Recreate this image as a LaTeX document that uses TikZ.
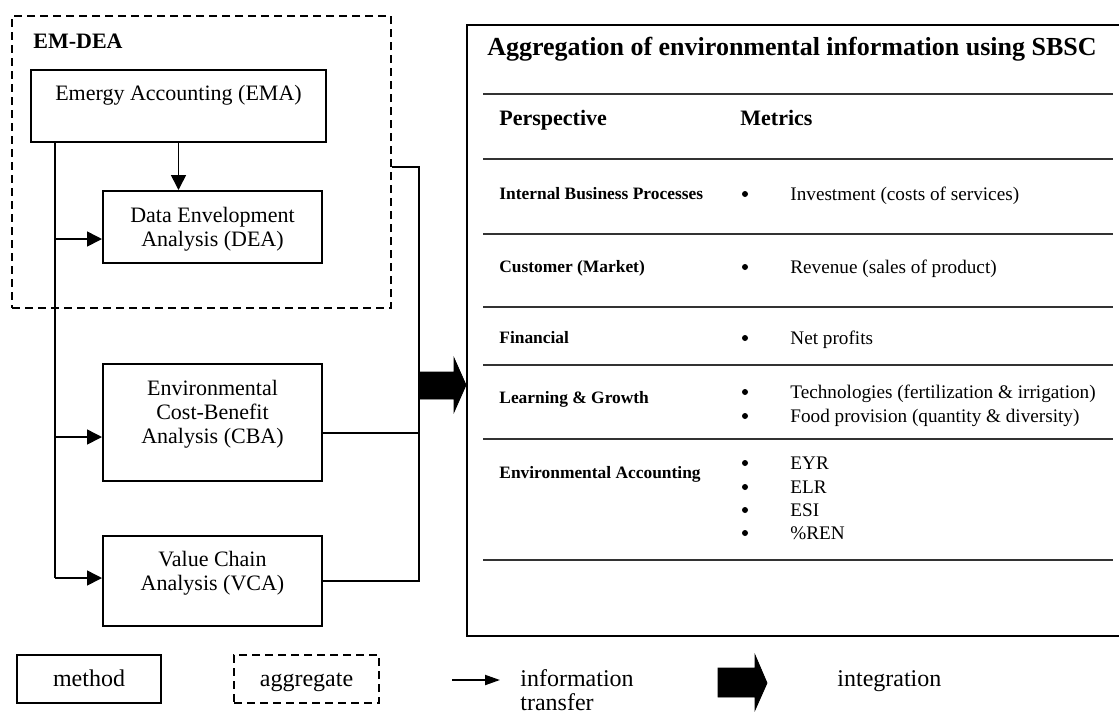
\documentclass[tikz,border=0pt]{standalone}
\usepackage{fontspec}
\setmainfont{Liberation Serif}
\usetikzlibrary{arrows.meta}
\begin{document}
\begin{tikzpicture}[x=0.5pt,y=-0.5pt,
  box/.style={draw, line width=1pt, inner sep=0pt},
  aggbox/.style={draw, line width=1pt, dash pattern=on 4pt off 2.5pt, inner sep=0pt},
  txt/.style={font=\fontsize{11}{12}\selectfont, align=center, inner sep=0pt},
  head/.style={font=\fontsize{11}{13}\selectfont\bfseries, inner sep=0pt},
  rowlabel/.style={font=\fontsize{8.7}{11}\selectfont\bfseries, inner sep=0pt, anchor=base west},
  metric/.style={font=\fontsize{9.6}{12}\selectfont, inner sep=0pt, anchor=base west},
  bul/.style={fill=black, circle, inner sep=0pt, minimum size=3pt},
  rule/.style={line width=1pt, draw=black!80},
  legtxt/.style={font=\fontsize{12}{12.5}\selectfont, inner sep=0pt, anchor=base west},
  link/.style={line width=0.8pt},
  flow/.style={line width=0.8pt, -{Triangle[length=7.5pt,width=7.5pt]}},
  legflow/.style={line width=1pt, -{Triangle[length=7.5pt,width=5pt]}},
  fat/.style={fill=black, draw=black, line width=0.4pt}
]
\useasboundingbox (0,0) rectangle (1119,714);

% ---------- method boxes ----------
\node[aggbox, minimum width=189.5pt, minimum height=146pt] (emdea) at (201.5,162) {};
\node[head, anchor=base west] (emdealabel) at (33,48) {EM-DEA};

\node[box, minimum width=147.5pt, minimum height=36pt] (ema) at (178.5,106) {};
\node[txt] (ematext) at (178.5,95) {Emergy Accounting (EMA)};

\node[box, minimum width=109.5pt, minimum height=36pt] (dea) at (212.5,227) {};
\node[txt] (deatext) at (212.5,229) {Data Envelopment\\Analysis (DEA)};

\node[box, minimum width=109.5pt, minimum height=58.5pt] (cba) at (212.5,422.5) {};
\node[txt] (cbatext) at (212.5,414) {Environmental\\Cost-Benefit\\Analysis (CBA)};

\node[box, minimum width=109.5pt, minimum height=45pt] (vca) at (212.5,581) {};
\node[txt] (vcatext) at (212.5,573.5) {Value Chain\\Analysis (VCA)};

% ---------- information transfer ----------
\coordinate (deain) at ([yshift=-6pt]dea.west);
\coordinate (cbain) at ([yshift=-7.25pt]cba.west);
\coordinate (vcain) at ([yshift=1.5pt]vca.west);
\coordinate (trunk) at (55,0);

\draw[flow] (ema.south) -- (ema.south |- dea.north);
\draw[link] (ema.south -| trunk) -- (vcain -| trunk);
\draw[flow] (deain -| trunk) -- (deain);
\draw[flow] (cbain -| trunk) -- (cbain);
\draw[flow] (vcain -| trunk) -- (vcain);

\coordinate (emdeaout) at ([yshift=-2.5pt]emdea.east);
\coordinate (cbaout) at ([yshift=-5.25pt]cba.east);
\coordinate (bus) at (419,0);
\draw[link] (emdeaout) -- (emdeaout -| bus) -- (vca.east -| bus) -- (vca.east);
\draw[link] (cbaout) -- (cbaout -| bus);

% ---------- SBSC panel ----------
\node[box, minimum width=329pt, minimum height=305.5pt] (sbsc) at (796,330.5) {};
\coordinate (tip) at (sbsc.west |- 0,385);
\fill[fat] (bus |- 0,372) -- (454,372) -- (454,358) -- (tip) -- (454,412) -- (454,399) -- (bus |- 0,399) -- cycle;

\node[head, font=\fontsize{13}{15}\selectfont\bfseries] (title) at (792,49) {Aggregation of environmental information using SBSC};

\foreach \y in {94,159,234,307,365,439,560}
  \draw[rule] (483,\y) -- (1113,\y);

\node[head, anchor=base west] (persp) at (499,125) {Perspective};
\node[head, anchor=base west] (metr) at (740,125) {Metrics};

\node[rowlabel] (ibp) at (499,199) {Internal Business Processes};
\node[rowlabel] (cust) at (499,272) {Customer (Market)};
\node[rowlabel] (fin) at (499,343) {Financial};
\node[rowlabel] (lg) at (499,403) {Learning \& Growth};
\node[rowlabel] (ea) at (499,478) {Environmental Accounting};

\foreach \y/\t [count=\i] in {200/Investment (costs of services),
    273/Revenue (sales of product),
    344/Net profits,
    398/Technologies (fertilization \& irrigation),
    422/Food provision (quantity \& diversity),
    469/EYR, 493/ELR, 516/ESI, 539/\%REN}{
  \node[bul] (b\i) at (745,\y-6) {};
  \node[metric] (m\i) at (790,\y) {\t};
}

% ---------- legend ----------
\node[box, minimum width=72pt, minimum height=24pt] (legmethod) at (89,679) {};
\node[legtxt, anchor=base] at (89,686) {method};
\node[aggbox, minimum width=72.5pt, minimum height=24pt] (legagg) at (306.5,679) {};
\node[legtxt, anchor=base] at (306.5,686) {aggregate};

\coordinate (lfrom) at (452,680);
\coordinate (lto) at (500,680);
\draw[legflow] (lfrom) -- (lto);
\node[legtxt] (leginfo) at (520,686) {information};
\node[legtxt] (legtransfer) at (520,710) {transfer};

\fill[fat] (718,668) -- (755,668) -- (755,655) -- (767,683) -- (755,710) -- (755,697) -- (718,697) -- cycle;
\node[legtxt] (leginteg) at (837,686) {integration};
\end{tikzpicture}
\end{document}
